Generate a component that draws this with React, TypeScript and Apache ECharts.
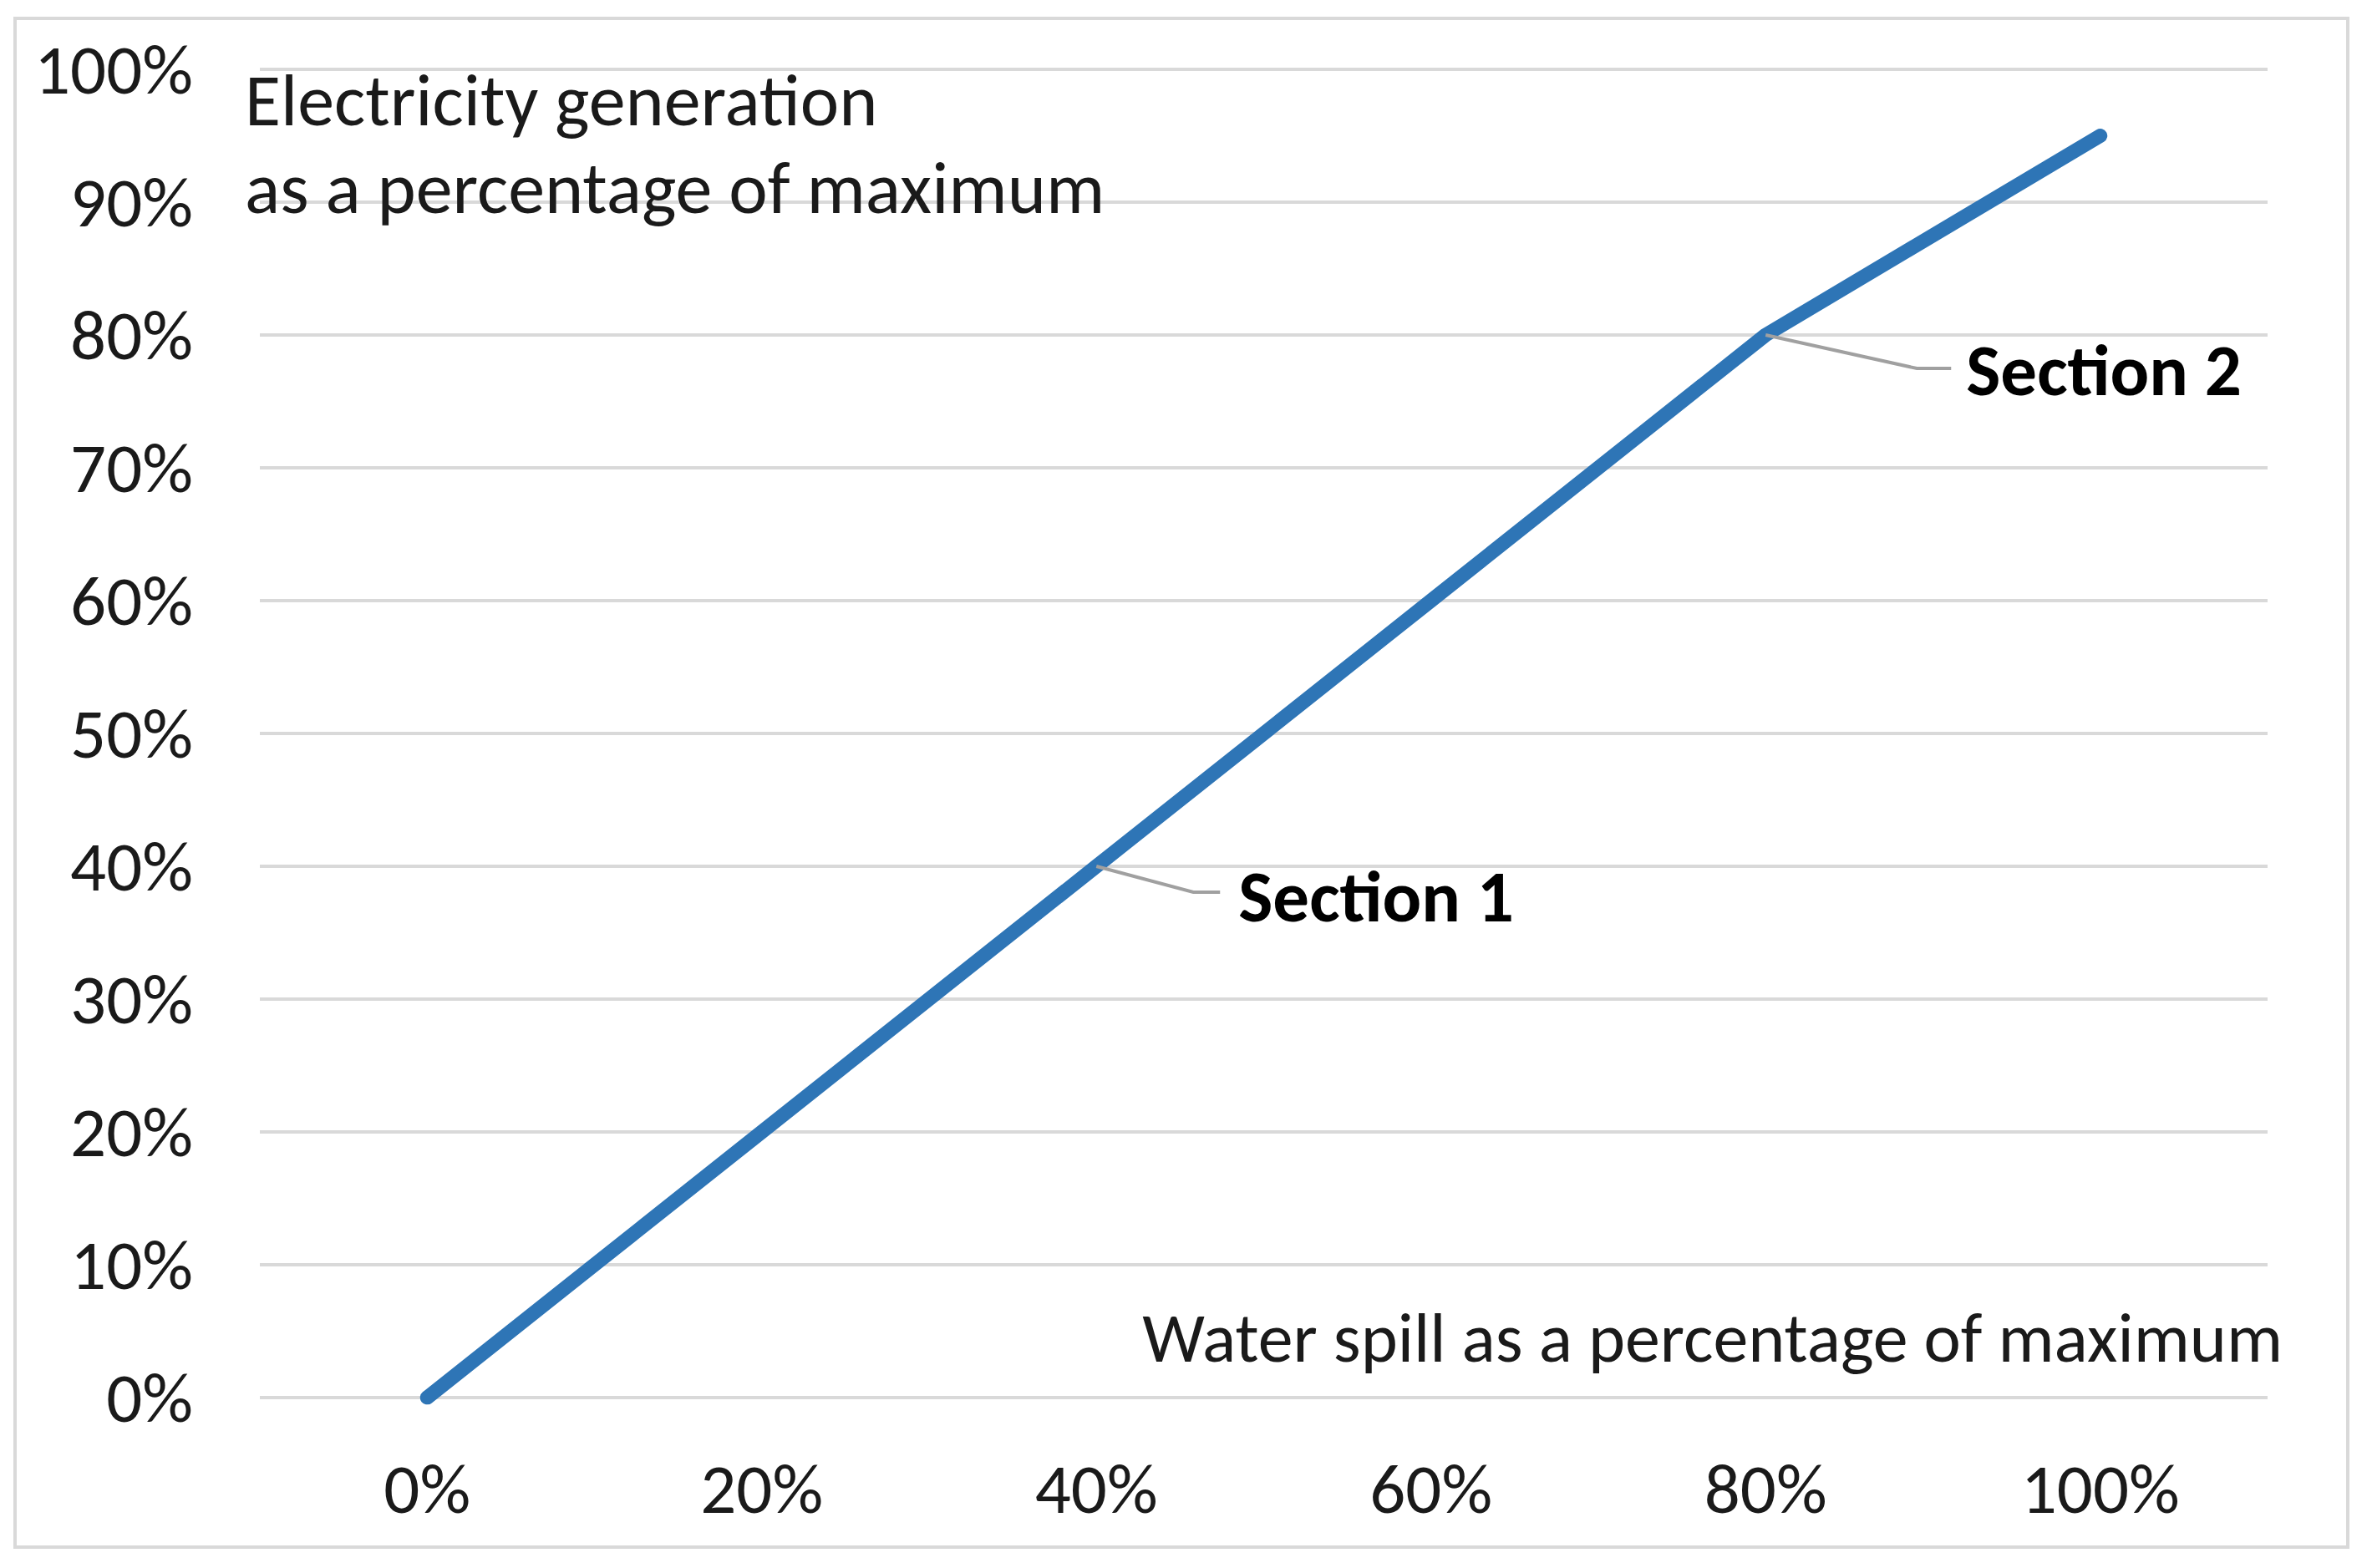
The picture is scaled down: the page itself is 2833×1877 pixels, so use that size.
import * as echarts from 'echarts';
import { useEffect, useRef } from 'react';

// x categories: water spill (% of max)
const spillLabels = ['0%', '20%', '40%', '60%', '80%', '100%'];
// electricity generation (% of max) at each spill level
const generation = [0, 20, 40, 60, 80, 95];
// y ticks, percent
const yMin = 0;
const yMax = 100;
const yStep = 10;

// callouts pointing at a data point
const callouts = [
  { text: 'Section 1', index: 2 },
  { text: 'Section 2', index: 4 },
];

const FONT = 'Carlito, "Liberation Sans Narrow", "DejaVu Sans Condensed", "Open Sans", sans-serif';
const TEXT_COLOR = '#1a1a1a';
const GRID_COLOR = '#d9d9d9';
const LINE_COLOR = '#2e75b6';

export default function App() {
  const chartRef = useRef<HTMLDivElement>(null);

  useEffect(() => {
    if (!chartRef.current) return;
    document.body.style.margin = '0';

    const chart = echarts.init(chartRef.current, null, { renderer: 'svg' });

    chart.setOption({
      animation: false,
      textStyle: { fontFamily: FONT },
      grid: { left: 311, right: 119, top: 83, bottom: 204 },
      xAxis: {
        type: 'category',
        data: spillLabels,
        boundaryGap: true,
        axisLine: { show: false },
        axisTick: { show: false },
        axisLabel: { color: TEXT_COLOR, fontSize: 85, fontFamily: FONT, margin: 66 },
      },
      yAxis: {
        type: 'value',
        min: yMin,
        max: yMax,
        interval: yStep,
        axisLine: { show: false },
        axisTick: { show: false },
        axisLabel: {
          color: TEXT_COLOR,
          fontSize: 85,
          fontFamily: FONT,
          margin: 80,
          formatter: '{value}%',
        },
        splitLine: { lineStyle: { color: GRID_COLOR, width: 4 } },
      },
      series: [
        {
          type: 'line',
          data: generation,
          symbol: 'none',
          lineStyle: { color: LINE_COLOR, width: 17, cap: 'round', join: 'round' },
        },
      ],
    });

    // leader offsets for each callout (px from the anchor point)
    const leader = [
      { dx: 116, dy: 31, hx: 148, tx: 170, ty: 36 },
      { dx: 181, dy: 40, hx: 222, tx: 240, ty: 42 },
    ];

    const graphics: any[] = [
      {
        type: 'rect',
        shape: { x: 18, y: 22, width: 2792, height: 1830 },
        style: { fill: 'none', stroke: GRID_COLOR, lineWidth: 4 },
        silent: true,
      },
      {
        type: 'text',
        x: 293,
        y: 172,
        style: {
          text: 'Electricity generation\nas a percentage of maximum',
          fontSize: 88,
          lineHeight: 105,
          fontFamily: FONT,
          fill: TEXT_COLOR,
          verticalAlign: 'middle',
        },
      },
      {
        type: 'text',
        x: 2732,
        y: 1601,
        style: {
          text: 'Water spill as a percentage of maximum',
          fontSize: 84,
          fontFamily: FONT,
          fill: TEXT_COLOR,
          align: 'right',
          verticalAlign: 'middle',
        },
      },
    ];

    callouts.forEach((c, i) => {
      const [ax, ay] = chart.convertToPixel({ seriesIndex: 0 }, [c.index, generation[c.index]]) as number[];
      const l = leader[i];
      graphics.push({
        type: 'polyline',
        shape: {
          points: [
            [ax, ay],
            [ax + l.dx, ay + l.dy],
            [ax + l.hx, ay + l.dy],
          ],
        },
        style: { fill: 'none', stroke: '#a0a0a0', lineWidth: 4 },
        z: 10,
      });
      graphics.push({
        type: 'text',
        x: ax + l.tx,
        y: ay + l.ty,
        style: {
          text: c.text,
          fontSize: 87,
          fontWeight: 'bold',
          fontFamily: FONT,
          fill: '#000',
          verticalAlign: 'middle',
        },
        z: 10,
      });
    });

    chart.setOption({ graphic: graphics });

    return () => {
      chart.dispose();
    };
  }, []);

  return <div ref={chartRef} style={{ width: '2833px', height: '1877px' }} />;
}
